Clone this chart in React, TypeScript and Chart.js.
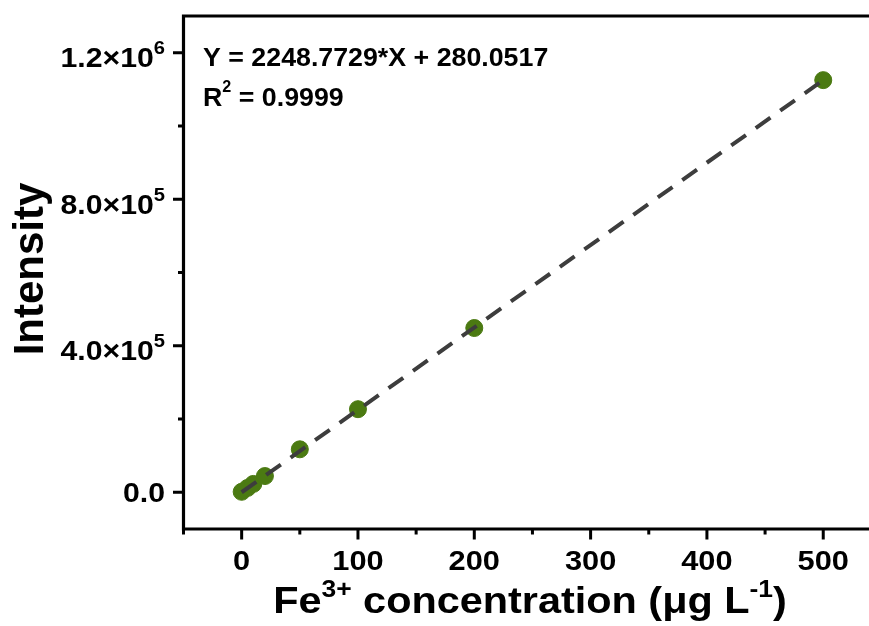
import React, { useEffect, useRef } from "react";
import { Chart, registerables } from "chart.js";

Chart.register(...registerables);

// ---- data ----
const concentrations = [0, 5, 10, 20, 50, 100, 200, 500];
const intensities = [1500, 12000, 23000, 44500, 117500, 227000, 448500, 1125000];
const fitX = [0, 500];
const fitY = [280.0517, 1124666.5];
const xMajorTicks = [0, 100, 200, 300, 400, 500];
const xMinorTicks = [-50, 50, 150, 250, 350, 450];
const xTickLabels = ["0", "100", "200", "300", "400", "500"];
const yMajorTicks = [0, 400000, 800000, 1200000];
const yMinorTicks = [200000, 600000, 1000000];
const yTickMain = ["0.0", "4.0×10", "8.0×10", "1.2×10"];
const yTickExp = ["", "5", "5", "6"];
const equationText = "Y = 2248.7729*X + 280.0517";
const r2Text = " = 0.9999";

const FONT = '"Liberation Sans", Arial, Helvetica, sans-serif';

type Seg = { t: string; sup?: boolean };

function drawRich(
  ctx: CanvasRenderingContext2D,
  segs: Seg[],
  x: number,
  y: number,
  align: "left" | "center" | "right",
  size: number,
  supSize: number,
  raise: number,
  sx: number
) {
  let total = 0;
  const widths: number[] = [];
  for (const s of segs) {
    ctx.font = `bold ${s.sup ? supSize : size}px ${FONT}`;
    const w = ctx.measureText(s.t).width;
    widths.push(w);
    total += w;
  }
  let start = x;
  if (align === "center") start = x - (total * sx) / 2;
  else if (align === "right") start = x - total * sx;
  ctx.save();
  ctx.translate(start, y);
  ctx.scale(sx, 1);
  ctx.textAlign = "left";
  ctx.textBaseline = "alphabetic";
  ctx.fillStyle = "#000";
  let cur = 0;
  segs.forEach((s, i) => {
    ctx.font = `bold ${s.sup ? supSize : size}px ${FONT}`;
    ctx.fillText(s.t, cur, s.sup ? -raise : 0);
    cur += widths[i];
  });
  ctx.restore();
}

const axesPlugin = {
  id: "originAxes",
  afterDatasetsDraw(chart: any) {
    const ctx: CanvasRenderingContext2D = chart.ctx;
    const { left, top, bottom, right } = chart.chartArea;
    const xs = chart.scales.x;
    const ys = chart.scales.y;
    ctx.save();
    ctx.strokeStyle = "#000";
    ctx.lineWidth = 3.2;
    ctx.lineCap = "butt";
    // frame
    ctx.beginPath();
    ctx.moveTo(left, bottom + 1.6);
    ctx.lineTo(left, top);
    ctx.moveTo(left - 1.6, top);
    ctx.lineTo(right + 2, top);
    ctx.moveTo(right, top - 1.6);
    ctx.lineTo(right, bottom + 1.6);
    ctx.moveTo(left - 1.6, bottom);
    ctx.lineTo(right + 2, bottom);
    ctx.stroke();
    // y ticks
    ctx.lineWidth = 3;
    ctx.beginPath();
    for (const v of yMajorTicks) {
      const p = ys.getPixelForValue(v);
      ctx.moveTo(left, p);
      ctx.lineTo(left - 10.5, p);
    }
    for (const v of yMinorTicks) {
      const p = ys.getPixelForValue(v);
      ctx.moveTo(left, p);
      ctx.lineTo(left - 5.5, p);
    }
    // x ticks
    for (const v of xMajorTicks) {
      const p = xs.getPixelForValue(v);
      ctx.moveTo(p, bottom);
      ctx.lineTo(p, bottom + 10.5);
    }
    for (const v of xMinorTicks) {
      const p = xs.getPixelForValue(v);
      ctx.moveTo(p, bottom);
      ctx.lineTo(p, bottom + 5.5);
    }
    ctx.stroke();
    ctx.restore();

    // y tick labels
    yMajorTicks.forEach((v, i) => {
      const p = ys.getPixelForValue(v);
      const segs: Seg[] = [{ t: yTickMain[i] }];
      if (yTickExp[i]) segs.push({ t: yTickExp[i], sup: true });
      const base = yTickExp[i] ? p + 14.5 : p + 9.5;
      drawRich(ctx, segs, 165, base, "right", 27, 18, 13, 1.12);
    });
    // x tick labels
    xMajorTicks.forEach((v, i) => {
      const p = xs.getPixelForValue(v);
      drawRich(ctx, [{ t: xTickLabels[i] }], p, 570, "center", 28, 18, 0, 1.1);
    });
    // x title
    drawRich(
      ctx,
      [
        { t: "Fe" },
        { t: "3+", sup: true },
        { t: " concentration (μg L" },
        { t: "-1", sup: true },
        { t: ")" },
      ],
      530,
      613,
      "center",
      36,
      23,
      16.5,
      1.15
    );
    // y title
    ctx.save();
    ctx.translate(43, 269);
    ctx.rotate(-Math.PI / 2);
    ctx.font = `bold 42px ${FONT}`;
    ctx.textAlign = "center";
    ctx.textBaseline = "alphabetic";
    ctx.fillStyle = "#000";
    ctx.fillText("Intensity", 0, 0);
    ctx.restore();
    // equation
    drawRich(ctx, [{ t: equationText }], 203, 66, "left", 26.5, 16, 0, 1.01);
    drawRich(ctx, [{ t: "R" }, { t: "2", sup: true }, { t: r2Text }], 203, 106, "left", 26.5, 16, 14, 1.01);
  },
};

export default function App() {
  const ref = useRef<HTMLCanvasElement | null>(null);
  useEffect(() => {
    if (!ref.current) return;
    const chart = new Chart(ref.current, {
      type: "scatter",
      data: {
        datasets: [
          {
            type: "line",
            label: "Fit",
            data: fitX.map((x, i) => ({ x, y: fitY[i] })),
            borderColor: "#3d3d3d",
            borderWidth: 4,
            borderDash: [18, 12],
            pointRadius: 0,
            fill: false,
            order: 0,
          } as any,
          {
            label: "Data",
            data: concentrations.map((x, i) => ({ x, y: intensities[i] })),
            backgroundColor: "#4b7a12",
            borderColor: "#4b7a12",
            borderWidth: 1,
            pointRadius: 8.5,
            pointHoverRadius: 8.5,
            showLine: false,
            order: 1,
          },
        ],
      },
      options: {
        responsive: false,
        maintainAspectRatio: false,
        animation: false,
        devicePixelRatio: 1,
        layout: { padding: { left: 183.5, top: 16, right: 18.6, bottom: 97 } },
        scales: {
          x: { type: "linear", min: -50, max: 550, display: false },
          y: { type: "linear", min: -100000, max: 1300000, display: false },
        },
        plugins: { legend: { display: false }, tooltip: { enabled: false } },
      },
      plugins: [axesPlugin],
    });
    return () => chart.destroy();
  }, []);
  return (
    <div
      style={{
        position: "fixed",
        left: 0,
        top: 0,
        width: 869,
        height: 626,
        overflow: "hidden",
        background: "#fff",
      }}
    >
      <canvas ref={ref} width={900} height={626} style={{ display: "block", width: 900, height: 626 }} />
    </div>
  );
}
